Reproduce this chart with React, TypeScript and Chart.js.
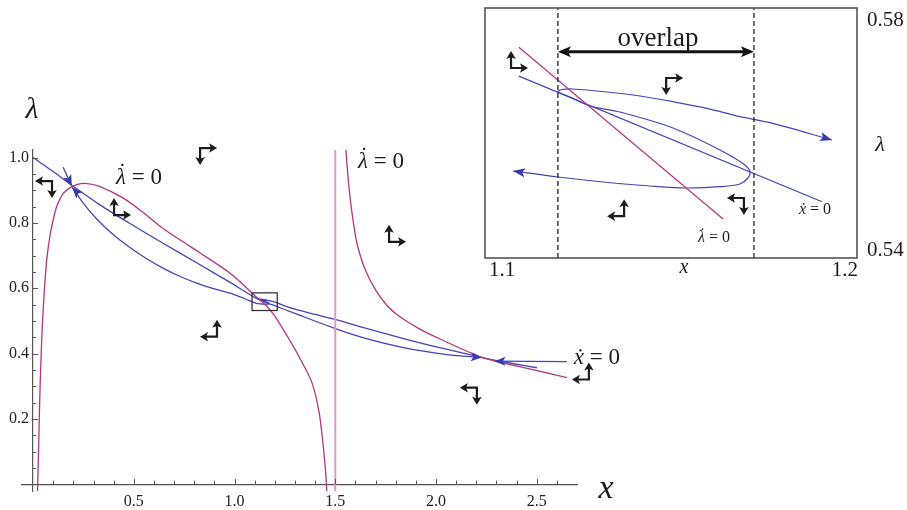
import React, { useEffect, useRef } from "react";
import { Chart, registerables } from "chart.js";
Chart.register(...registerables);

// ---------- main plot: axes ----------
const xTickValues = [0.1, 0.2, 0.3, 0.4, 0.5, 0.6, 0.7, 0.8, 0.9, 1.0, 1.1, 1.2, 1.3, 1.4, 1.5, 1.6, 1.7, 1.8, 1.9, 2.0, 2.1, 2.2, 2.3, 2.4, 2.5, 2.6];
const xTickLabels = [0.5, 1.0, 1.5, 2.0, 2.5];
const yTickValues = [0.05, 0.1, 0.15, 0.2, 0.25, 0.3, 0.35, 0.4, 0.45, 0.5, 0.55, 0.6, 0.65, 0.7, 0.75, 0.8, 0.85, 0.9, 0.95, 1.0];
const yTickLabels = [0.2, 0.4, 0.6, 0.8, 1.0];
const xRange = [-0.055, 2.7];
const yRange = [-0.02, 1.023];

// ---------- main plot: curves (x, lambda) ----------
const lambdaNullLeft: [number, number][] = [
  [0.022, -0.02], [0.025, 0.05], [0.029, 0.15], [0.033, 0.26], [0.038, 0.36], [0.044, 0.46], [0.051, 0.544],
  [0.06, 0.63], [0.07, 0.70], [0.085, 0.765], [0.1, 0.81], [0.118, 0.852], [0.15, 0.89], [0.184, 0.908],
  [0.22, 0.918], [0.26, 0.921], [0.33, 0.912], [0.45, 0.875], [0.55, 0.83], [0.647, 0.782], [0.75, 0.74],
  [0.83, 0.708], [0.978, 0.646], [1.05, 0.607], [1.1, 0.578], [1.13, 0.562], [1.16, 0.545], [1.2, 0.515],
  [1.275, 0.44], [1.33, 0.38], [1.385, 0.31], [1.42, 0.22], [1.44, 0.12], [1.452, 0.04], [1.458, -0.02],
];
const lambdaNullRight: [number, number][] = [
  [1.553, 1.023], [1.562, 0.95], [1.573, 0.88], [1.595, 0.78], [1.613, 0.724], [1.65, 0.655], [1.7, 0.595],
  [1.76, 0.545], [1.821, 0.513], [1.92, 0.475], [2.02, 0.445], [2.233, 0.388], [2.481, 0.351], [2.65, 0.327],
];
const asymptote: [number, number][] = [[1.5, -0.02], [1.5, 1.023]];
const xDotNull: [number, number][] = [
  [0, 1.0], [0.1, 0.957], [0.192, 0.915], [0.33, 0.856], [0.481, 0.798], [0.647, 0.737], [0.812, 0.678],
  [0.978, 0.618], [1.109, 0.5691], [1.19, 0.549], [1.3, 0.523], [1.504, 0.476], [1.65, 0.447], [1.821, 0.421],
  [2.0, 0.402], [2.12, 0.393], [2.228, 0.388],
];
const manifoldLeft: [number, number][] = [
  [0.194, 0.909], [0.25, 0.86], [0.316, 0.812], [0.4, 0.763], [0.481, 0.725], [0.56, 0.692], [0.647, 0.661],
  [0.73, 0.636], [0.812, 0.616], [0.9, 0.598], [0.978, 0.585], [1.05, 0.568],
];
const orbit: [number, number][] = [
  [1.10753, 0.55392], [1.11962, 0.55296], [1.13441, 0.552], [1.14435, 0.55152], [1.1543, 0.5512], [1.16317, 0.55141],
  [1.16855, 0.55184], [1.1707, 0.5528], [1.17124, 0.55376], [1.16989, 0.55488], [1.16317, 0.55728], [1.15054, 0.5608],
  [1.13629, 0.56336], [1.12823, 0.56432], [1.12285, 0.56576], [1.11962, 0.56656], [1.1207, 0.56696], [1.12366, 0.56704],
  [1.1328, 0.56656], [1.14167, 0.56592], [1.15054, 0.56501], [1.15968, 0.56395], [1.16855, 0.56261], [1.17661, 0.56165],
  [1.19328, 0.55888],
];
const manifoldRight: [number, number][] = [
  [1.3, 0.536], [1.4, 0.52], [1.504, 0.504], [1.65, 0.478], [1.821, 0.449], [1.98, 0.424], [2.134, 0.402],
  [2.253, 0.385], [2.38, 0.37], [2.501, 0.357],
];
const stableUpper: [number, number][] = [[0.149, 0.97], [0.192, 0.913]];
const stableRight: [number, number][] = [[2.65, 0.376], [2.29, 0.377]];
const zoomBoxX = [1.087, 1.212];
const zoomBoxY = [0.532, 0.586];

// arrowheads on curves: [tipX, tipY, fromX, fromY]
const mainCurveArrows: number[][] = [
  [0.192, 0.913, 0.17, 0.942],
  [0.194, 0.909, 0.23, 0.885],
  [2.228, 0.388, 2.15, 0.392],
  [2.29, 0.377, 2.36, 0.377],
];
// phase arrows: [x, lambda, horizontal (+1 right), vertical (+1 up)]
const mainPhaseArrows: number[][] = [
  [0.094, 0.928, -1, -1], [0.402, 0.824, 1, 1], [0.829, 1.029, 1, -1], [1.767, 0.742, 1, 1],
  [0.913, 0.452, -1, 1], [2.203, 0.296, -1, -1], [2.759, 0.321, -1, 1],
];

// ---------- inset ----------
const insetXRange = [1.1, 1.2];
const insetYRange = [0.54, 0.58];
const insetXTicks = [1.1, 1.2];
const insetYTicks = [0.58, 0.54];
const insetLambdaNull: [number, number][] = [[1.1091, 0.57371], [1.164, 0.54624]];
const insetXDotNull: [number, number][] = [[1.1091, 0.5691], [1.1906, 0.549]];
const overlapBounds = [1.1196, 1.1723];
const overlapLevel = 0.573;
const insetCurveArrows: number[][] = [
  [1.10753, 0.55392, 1.11075, 0.55365],
  [1.19328, 0.55888, 1.19005, 0.55944],
];
const insetPhaseArrows: number[][] = [
  [1.107, 0.5704, 1, 1], [1.1487, 0.5688, 1, -1], [1.1374, 0.5467, -1, 1], [1.1696, 0.5496, -1, -1],
];

// ---------- styles ----------
const SERIF = "'Liberation Serif', 'Times New Roman', 'DejaVu Serif', serif";
const MAGENTA = "#b3367e";
const PINK = "#dc9cc8";
const BLUE = "#4545b2";
const BLUE_HEAD = "#3a3aae";
const INK = "#1c1c1c";
const AXIS = "#555555";

const pts = (a: [number, number][]) => a.map(([x, y]) => ({ x, y }));
const line = (data: [number, number][], color: string, width: number, tension = 0.3, extra: any = {}) => ({
  data: pts(data), borderColor: color, borderWidth: width, showLine: true, pointRadius: 0, fill: false, tension, ...extra,
});
const near = (arr: number[], v: number) => arr.some((a) => Math.abs(a - v) < 1e-9);

function arrowHead(ctx: CanvasRenderingContext2D, tx: number, ty: number, fx: number, fy: number, len: number, hw: number, color: string) {
  const a = Math.atan2(ty - fy, tx - fx);
  const c = Math.cos(a), s = Math.sin(a);
  const bx = tx - len * c, by = ty - len * s;
  ctx.save();
  ctx.fillStyle = color;
  ctx.beginPath();
  ctx.moveTo(tx, ty);
  ctx.lineTo(bx - hw * s, by + hw * c);
  ctx.lineTo(tx - len * 0.78 * c, ty - len * 0.78 * s);
  ctx.lineTo(bx + hw * s, by - hw * c);
  ctx.closePath();
  ctx.fill();
  ctx.restore();
}

function phaseGlyph(ctx: CanvasRenderingContext2D, cx: number, cy: number, h: number, v: number) {
  const L = 17, head = 8, hw = 4.8;
  const hx = cx + h * L, vy = cy - v * L;
  ctx.save();
  ctx.strokeStyle = INK;
  ctx.lineWidth = 2.2;
  ctx.lineJoin = "miter";
  ctx.beginPath();
  ctx.moveTo(hx - h * head * 0.7, cy);
  ctx.lineTo(cx, cy);
  ctx.lineTo(cx, vy + v * head * 0.7);
  ctx.stroke();
  ctx.restore();
  arrowHead(ctx, hx, cy, cx, cy, head, hw, INK);
  arrowHead(ctx, cx, vy, cx, cy, head, hw, INK);
}

function text(ctx: CanvasRenderingContext2D, s: string, x: number, y: number, size: number, italic = false, align: CanvasTextAlign = "center") {
  ctx.save();
  ctx.font = `${italic ? "italic " : ""}${size}px ${SERIF}`;
  ctx.textAlign = align;
  ctx.textBaseline = "middle";
  ctx.fillStyle = INK;
  ctx.fillText(s, x, y);
  ctx.restore();
}

// symbol with a dot above (time derivative) followed by " = 0"
function eqZero(ctx: CanvasRenderingContext2D, sym: string, x: number, y: number, size: number, dotShift: number) {
  const f1 = `italic ${size}px ${SERIF}`;
  const f2 = `${size}px ${SERIF}`;
  const rest = " = 0";
  ctx.save();
  ctx.font = f1;
  const w1 = ctx.measureText(sym).width;
  ctx.font = f2;
  const w2 = ctx.measureText(rest).width;
  const start = x - (w1 + w2) / 2;
  ctx.textBaseline = "middle";
  ctx.textAlign = "left";
  ctx.fillStyle = INK;
  ctx.font = f1;
  ctx.fillText(sym, start, y);
  if (dotShift > 0) {
    ctx.textAlign = "center";
    ctx.font = f2;
    ctx.fillText("\u02d9", start + w1 * 0.62, y - size * dotShift);
    ctx.textAlign = "left";
  }
  ctx.font = f2;
  ctx.fillText(rest, start + w1, y);
  ctx.restore();
}

const mainDecor = {
  id: "mainDecor",
  afterDraw(chart: any) {
    const { ctx } = chart;
    const X = chart.scales.x, Y = chart.scales.y;
    const px = (v: number) => X.getPixelForValue(v);
    const py = (v: number) => Y.getPixelForValue(v);
    // inside tick marks
    ctx.save();
    ctx.strokeStyle = AXIS;
    ctx.lineWidth = 1;
    ctx.beginPath();
    const y0 = py(0), x0 = px(0);
    xTickValues.forEach((v) => {
      const len = near(xTickLabels, v) ? 5.5 : 3.8;
      const p = Math.round(px(v)) + 0.5;
      ctx.moveTo(p, y0);
      ctx.lineTo(p, y0 - len);
    });
    yTickValues.forEach((v) => {
      const len = near(yTickLabels, v) ? 5 : 3;
      const p = Math.round(py(v)) + 0.5;
      ctx.moveTo(x0, p);
      ctx.lineTo(x0 + len, p);
    });
    ctx.stroke();
    // zoom box
    ctx.strokeStyle = "#2a2a2a";
    ctx.lineWidth = 1.2;
    ctx.strokeRect(px(zoomBoxX[0]), py(zoomBoxY[1]), px(zoomBoxX[1]) - px(zoomBoxX[0]), py(zoomBoxY[0]) - py(zoomBoxY[1]));
    ctx.restore();
    mainCurveArrows.forEach(([tx, ty, fx, fy]) => arrowHead(ctx, px(tx), py(ty), px(fx), py(fy), 11, 4.5, BLUE_HEAD));
    mainPhaseArrows.forEach(([x, y, h, v]) => phaseGlyph(ctx, px(x), py(y), h, v));
    // labels
    text(ctx, "\u03bb", px(-0.005), py(1.145), 30, true);
    text(ctx, "x", px(2.844), py(-0.015), 34, true);
    eqZero(ctx, "\u03bb", px(0.526), py(0.937), 23, 0.22);
    eqZero(ctx, "\u03bb", px(1.727), py(0.986), 23, 0.22);
    eqZero(ctx, "\u1e8b", px(2.799), py(0.388), 23, 0);
  },
};

const insetDecor = {
  id: "insetDecor",
  beforeDraw(chart: any) {
    const { ctx, chartArea: a } = chart;
    ctx.save();
    ctx.fillStyle = "#ffffff";
    ctx.fillRect(a.left, a.top, a.right - a.left, a.bottom - a.top);
    ctx.restore();
  },
  afterDraw(chart: any) {
    const { ctx } = chart;
    const X = chart.scales.x, Y = chart.scales.y;
    const px = (v: number) => X.getPixelForValue(v);
    const py = (v: number) => Y.getPixelForValue(v);
    // frame
    ctx.save();
    ctx.strokeStyle = AXIS;
    ctx.lineWidth = 1.6;
    ctx.strokeRect(px(insetXRange[0]), py(insetYRange[1]), px(insetXRange[1]) - px(insetXRange[0]), py(insetYRange[0]) - py(insetYRange[1]));
    // overlap arrow shaft
    const ya = py(overlapLevel), xa = px(overlapBounds[0]), xb = px(overlapBounds[1]);
    ctx.strokeStyle = "#111";
    ctx.lineWidth = 3.2;
    ctx.beginPath();
    ctx.moveTo(xa + 9, ya);
    ctx.lineTo(xb - 9, ya);
    ctx.stroke();
    ctx.restore();
    arrowHead(ctx, xa, ya, xb, ya, 13, 5.5, "#111");
    arrowHead(ctx, xb, ya, xa, ya, 13, 5.5, "#111");
    insetCurveArrows.forEach(([tx, ty, fx, fy]) => arrowHead(ctx, px(tx), py(ty), px(fx), py(fy), 12, 4.5, BLUE_HEAD));
    insetPhaseArrows.forEach(([x, y, h, v]) => phaseGlyph(ctx, px(x), py(y), h, v));
    // texts
    text(ctx, "overlap", (xa + xb) / 2 + 2, py(0.5750), 27);
    eqZero(ctx, "\u03bb", px(1.16156), py(0.5432), 16, 0.22);
    eqZero(ctx, "\u1e8b", px(1.18871), py(0.54768), 16, 0);
    text(ctx, "x", px(1.15349), py(0.5384), 20, true);
    text(ctx, "\u03bb", px(1.20618), py(0.55808), 22, true);
    const yb = py(insetYRange[0]) + 12;
    text(ctx, insetXTicks[0].toFixed(1), px(insetXTicks[0]) + 4, yb, 21, false, "left");
    text(ctx, insetXTicks[1].toFixed(1), px(insetXTicks[1]) + 1, yb, 21, false, "right");
    const xr = px(insetXRange[1]) + 10;
    text(ctx, insetYTicks[0].toFixed(2), xr, py(insetYTicks[0]) + 12, 21, false, "left");
    text(ctx, insetYTicks[1].toFixed(2), xr, py(insetYTicks[1]) - 8, 21, false, "left");
  },
};

function mainConfig(): any {
  return {
    type: "scatter",
    data: {
      datasets: [
        line(asymptote, PINK, 2, 0),
        line(lambdaNullLeft, MAGENTA, 1.3),
        line(lambdaNullRight, MAGENTA, 1.3),
        line(xDotNull, BLUE, 1.3),
        line([...manifoldLeft, ...orbit, ...manifoldRight], BLUE, 1.3, 0.25),
        line(stableUpper, BLUE, 1.3, 0),
        line(stableRight, BLUE, 1.3, 0),
      ],
    },
    options: {
      responsive: false,
      animation: false,
      events: [],
      layout: { padding: { left: 22, right: 330, top: 150, bottom: 19 } },
      plugins: { legend: { display: false }, tooltip: { enabled: false } },
      scales: {
        x: {
          type: "linear", min: xRange[0], max: xRange[1], position: { y: 0 },
          grid: { display: false },
          border: { display: true, color: AXIS, width: 1.2 },
          afterBuildTicks: (s: any) => { s.ticks = xTickValues.map((v) => ({ value: v })); },
          ticks: {
            autoSkip: false, maxRotation: 0, padding: 0, color: "#222",
            font: { family: SERIF, size: 16 },
            callback: (v: any) => (near(xTickLabels, Number(v)) ? Number(v).toFixed(1) : ""),
          },
        },
        y: {
          type: "linear", min: yRange[0], max: yRange[1], position: { x: 0 },
          grid: { display: false },
          border: { display: true, color: AXIS, width: 1.2 },
          afterBuildTicks: (s: any) => { s.ticks = yTickValues.map((v) => ({ value: v })); },
          ticks: {
            autoSkip: false, padding: 5, color: "#222",
            font: { family: SERIF, size: 16 },
            callback: (v: any) => (near(yTickLabels, Number(v)) ? Number(v).toFixed(1) + " " : ""),
          },
        },
      },
    },
    plugins: [mainDecor],
  };
}

function insetConfig(): any {
  return {
    type: "scatter",
    data: {
      datasets: [
        line([[overlapBounds[0], insetYRange[0]], [overlapBounds[0], insetYRange[1]]], "#111", 1.2, 0, { borderDash: [5, 3] }),
        line([[overlapBounds[1], insetYRange[0]], [overlapBounds[1], insetYRange[1]]], "#111", 1.2, 0, { borderDash: [5, 3] }),
        line(insetLambdaNull, MAGENTA, 1.2, 0),
        line(insetXDotNull, BLUE, 1.2, 0),
        line(orbit, BLUE, 1.2, 0.3),
      ],
    },
    options: {
      responsive: false,
      animation: false,
      events: [],
      layout: { padding: { left: 485, right: 50, top: 8, bottom: 252 } },
      plugins: { legend: { display: false }, tooltip: { enabled: false } },
      scales: {
        x: { type: "linear", min: insetXRange[0], max: insetXRange[1], display: false },
        y: { type: "linear", min: insetYRange[0], max: insetYRange[1], display: false },
      },
    },
    plugins: [insetDecor],
  };
}

export default function App() {
  const mainRef = useRef<HTMLCanvasElement>(null);
  const insetRef = useRef<HTMLCanvasElement>(null);
  useEffect(() => {
    const c1 = new Chart(mainRef.current as HTMLCanvasElement, mainConfig());
    const c2 = new Chart(insetRef.current as HTMLCanvasElement, insetConfig());
    return () => {
      c1.destroy();
      c2.destroy();
    };
  }, []);
  const cs: React.CSSProperties = { position: "absolute", left: 0, top: 0, width: 907, height: 510 };
  return (
    <div style={{ position: "fixed", left: 0, top: 0, width: 907, height: 510, background: "#fff", overflow: "hidden" }}>
      <canvas ref={mainRef} width={907} height={510} style={cs} />
      <canvas ref={insetRef} width={907} height={510} style={cs} />
    </div>
  );
}
